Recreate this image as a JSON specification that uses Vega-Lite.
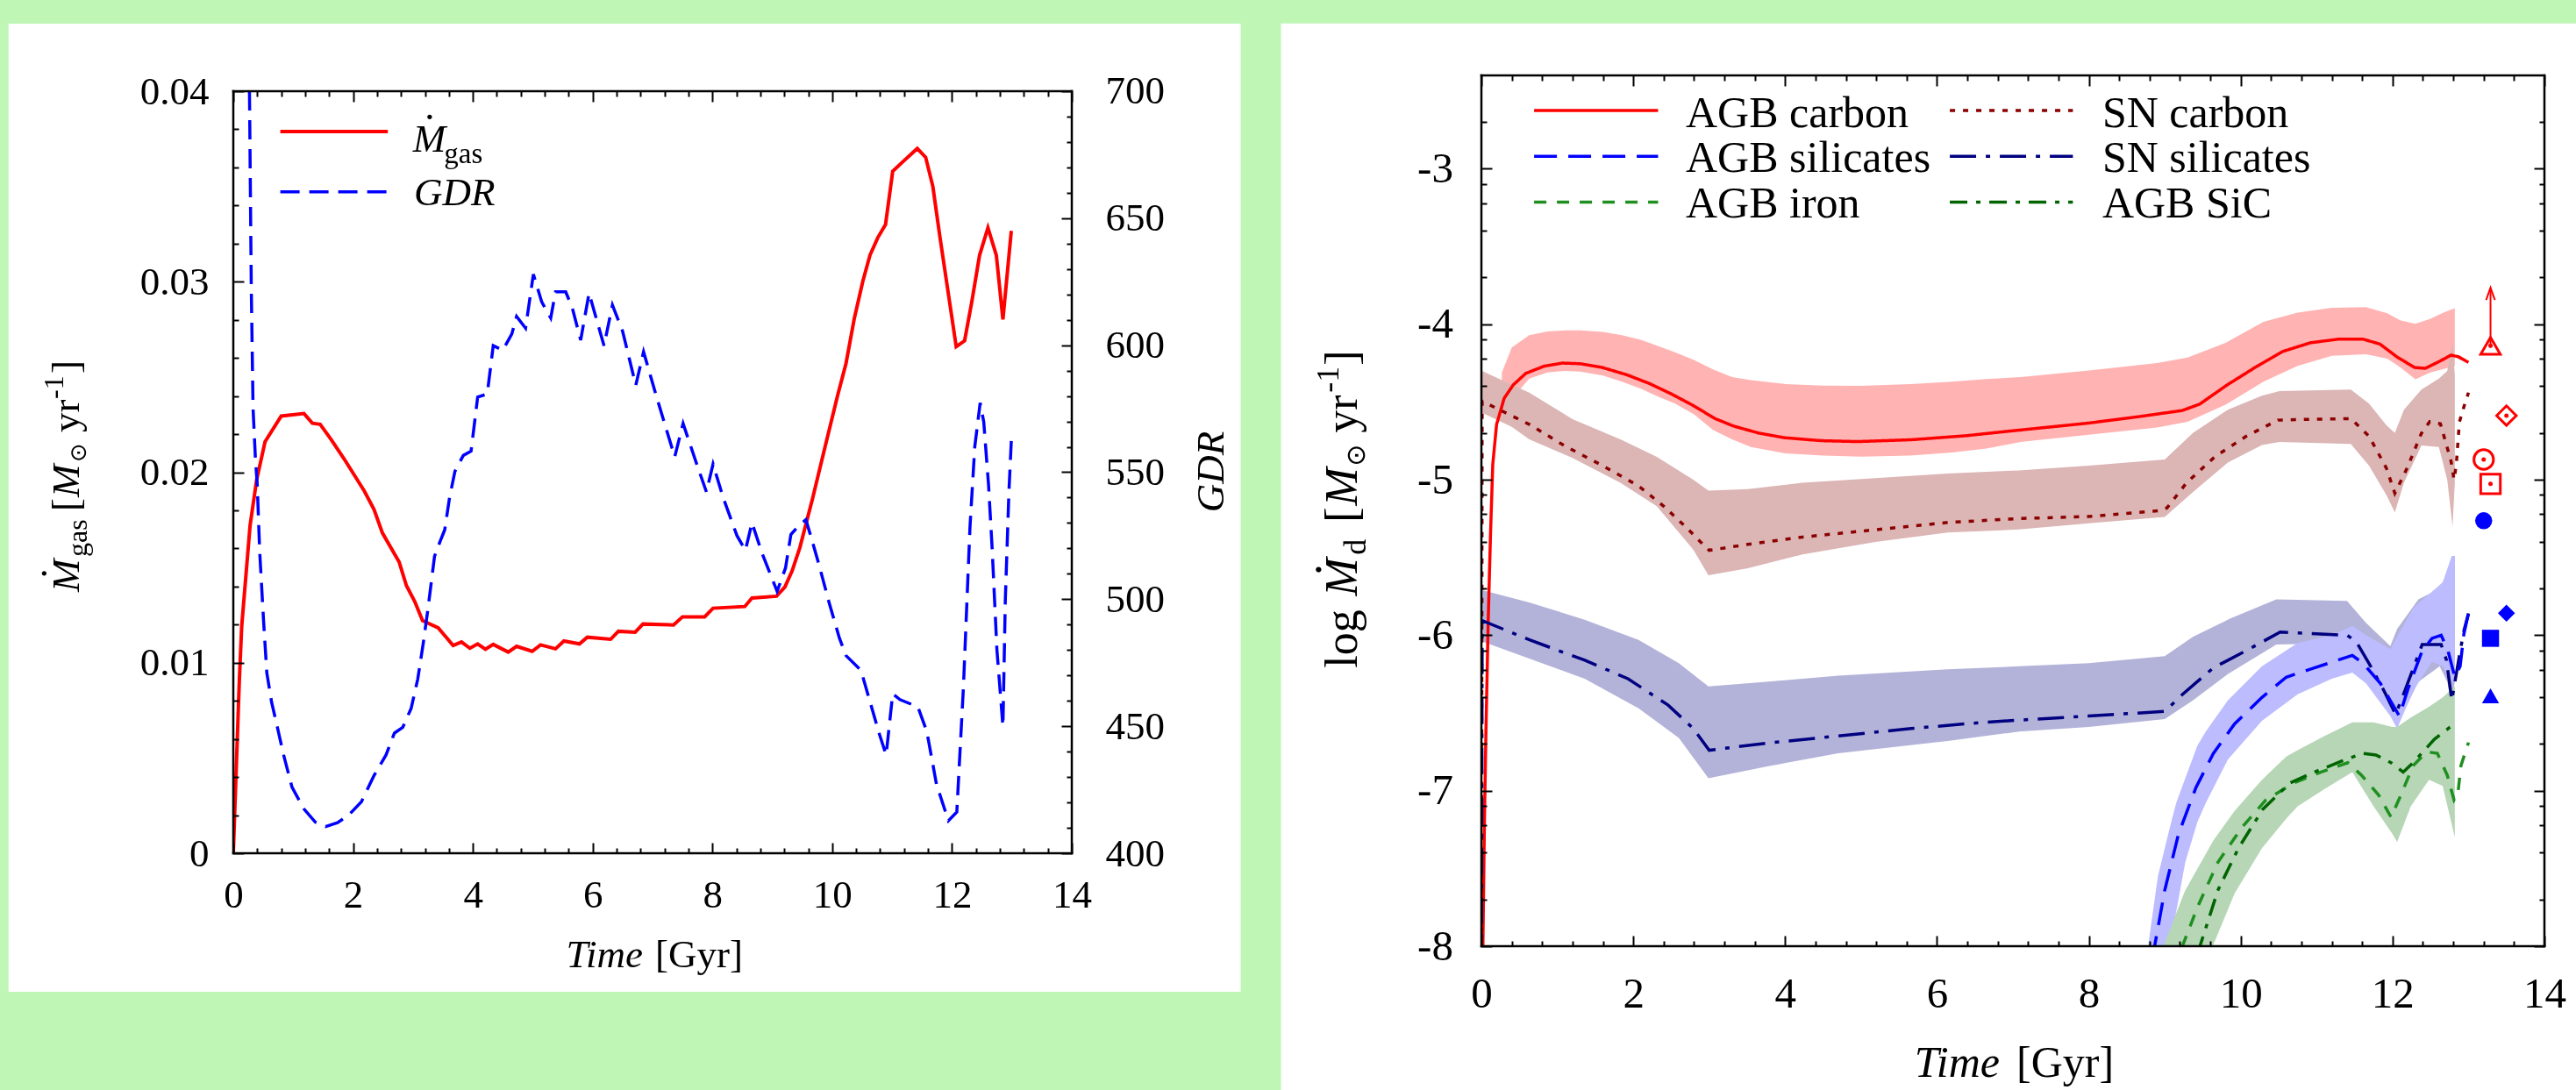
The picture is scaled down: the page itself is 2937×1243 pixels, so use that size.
{
"$schema": "https://vega.github.io/schema/vega-lite/v6.json",
"background": "#bff6b6",
"padding": {"left": 9, "top": 26, "right": 0, "bottom": 0},
"spacing": 45,
"data": {"values": [{}]},
"config": {
  "view": {"stroke": null},
  "axis": {"domain": false, "grid": false, "tickColor": "black", "tickWidth": 2, "labelFont": "Liberation Serif", "labelColor": "black", "labelFlush": false, "labelOverlap": false}
},
"datasets": {
  "mgas": [
    {"time":0,"Mgas":0},{"time":0.05,"Mgas":0.0045},{"time":0.1,"Mgas":0.009},{"time":0.14,"Mgas":0.0119},{"time":0.28,"Mgas":0.0172},{"time":0.39,"Mgas":0.0196},{"time":0.53,"Mgas":0.0216},{"time":0.8,"Mgas":0.02295},{"time":1.18,"Mgas":0.02308},{"time":1.32,"Mgas":0.02257},{"time":1.45,"Mgas":0.02252},{"time":1.63,"Mgas":0.02173},{"time":1.85,"Mgas":0.0207},{"time":2.19,"Mgas":0.019},{"time":2.35,"Mgas":0.01804},{"time":2.49,"Mgas":0.01681},{"time":2.77,"Mgas":0.01528},{"time":2.89,"Mgas":0.01405},{"time":3.03,"Mgas":0.01321},{"time":3.16,"Mgas":0.01221},{"time":3.42,"Mgas":0.01183},{"time":3.67,"Mgas":0.01091},{"time":3.81,"Mgas":0.01109},{"time":3.95,"Mgas":0.01076},{"time":4.08,"Mgas":0.01099},{"time":4.21,"Mgas":0.01071},{"time":4.34,"Mgas":0.01096},{"time":4.59,"Mgas":0.01056},{"time":4.73,"Mgas":0.01086},{"time":4.99,"Mgas":0.0106},{"time":5.13,"Mgas":0.01094},{"time":5.38,"Mgas":0.01073},{"time":5.52,"Mgas":0.01114},{"time":5.78,"Mgas":0.01099},{"time":5.91,"Mgas":0.01134},{"time":6.3,"Mgas":0.01123},{"time":6.43,"Mgas":0.01165},{"time":6.71,"Mgas":0.0116},{"time":6.84,"Mgas":0.01203},{"time":7.35,"Mgas":0.01198},{"time":7.5,"Mgas":0.01241},{"time":7.87,"Mgas":0.01241},{"time":8.01,"Mgas":0.01286},{"time":8.54,"Mgas":0.01295},{"time":8.66,"Mgas":0.0134},{"time":9.07,"Mgas":0.01349},{"time":9.21,"Mgas":0.01398},{"time":9.33,"Mgas":0.01482},{"time":9.46,"Mgas":0.01605},{"time":9.67,"Mgas":0.0186},{"time":9.87,"Mgas":0.0212},{"time":10.09,"Mgas":0.02403},{"time":10.23,"Mgas":0.02571},{"time":10.37,"Mgas":0.02809},{"time":10.51,"Mgas":0.03001},{"time":10.63,"Mgas":0.03139},{"time":10.76,"Mgas":0.03231},{"time":10.89,"Mgas":0.033},{"time":11.01,"Mgas":0.0358},{"time":11.18,"Mgas":0.0363},{"time":11.42,"Mgas":0.03699},{"time":11.56,"Mgas":0.03653},{"time":11.68,"Mgas":0.035},{"time":11.8,"Mgas":0.03231},{"time":12.07,"Mgas":0.02659},{"time":12.21,"Mgas":0.0269},{"time":12.33,"Mgas":0.02894},{"time":12.46,"Mgas":0.03139},{"time":12.6,"Mgas":0.03283},{"time":12.74,"Mgas":0.03139},{"time":12.85,"Mgas":0.02802},{"time":12.99,"Mgas":0.03267}
  ],
  "gdr": [
    {"time":0.27,"GDR":700},{"time":0.3,"GDR":623},{"time":0.33,"GDR":575},{"time":0.37,"GDR":555},{"time":0.4,"GDR":545},{"time":0.44,"GDR":519},{"time":0.505,"GDR":491.6},{"time":0.56,"GDR":470.9},{"time":0.64,"GDR":459.4},{"time":0.73,"GDR":450.2},{"time":0.84,"GDR":438.7},{"time":0.98,"GDR":426},{"time":1.18,"GDR":417.4},{"time":1.37,"GDR":412.2},{"time":1.54,"GDR":410.5},{"time":1.74,"GDR":412},{"time":1.93,"GDR":415.1},{"time":2.14,"GDR":420.3},{"time":2.35,"GDR":430.6},{"time":2.55,"GDR":438.7},{"time":2.69,"GDR":447.3},{"time":2.83,"GDR":449.6},{"time":2.97,"GDR":457.1},{"time":3.08,"GDR":468.6},{"time":3.17,"GDR":482.4},{"time":3.25,"GDR":496.2},{"time":3.36,"GDR":516.9},{"time":3.45,"GDR":522.6},{"time":3.53,"GDR":527.3},{"time":3.61,"GDR":539.9},{"time":3.7,"GDR":550.3},{"time":3.84,"GDR":556.6},{"time":3.97,"GDR":558.3},{"time":4.08,"GDR":579.6},{"time":4.24,"GDR":580.8},{"time":4.34,"GDR":599.8},{"time":4.5,"GDR":598},{"time":4.65,"GDR":604.4},{"time":4.73,"GDR":611.3},{"time":4.88,"GDR":606.7},{"time":5.01,"GDR":627.9},{"time":5.15,"GDR":617},{"time":5.3,"GDR":610.7},{"time":5.38,"GDR":621},{"time":5.55,"GDR":621},{"time":5.66,"GDR":614.7},{"time":5.8,"GDR":602},{"time":5.94,"GDR":620.5},{"time":6.08,"GDR":608.9},{"time":6.19,"GDR":599.8},{"time":6.33,"GDR":615.8},{"time":6.5,"GDR":605.5},{"time":6.72,"GDR":584.2},{"time":6.85,"GDR":597.4},{"time":7.06,"GDR":580.2},{"time":7.37,"GDR":556},{"time":7.51,"GDR":569.2},{"time":7.73,"GDR":553.7},{"time":7.9,"GDR":542.2},{"time":8.01,"GDR":553.2},{"time":8.18,"GDR":539.9},{"time":8.41,"GDR":525},{"time":8.55,"GDR":519.2},{"time":8.66,"GDR":530.1},{"time":8.83,"GDR":518},{"time":9.08,"GDR":503.1},{"time":9.22,"GDR":512.3},{"time":9.31,"GDR":525.5},{"time":9.42,"GDR":528.4},{"time":9.56,"GDR":531.3},{"time":9.64,"GDR":525},{"time":9.78,"GDR":513.5},{"time":9.95,"GDR":498.5},{"time":10.12,"GDR":484.7},{"time":10.23,"GDR":477.8},{"time":10.48,"GDR":472},{"time":10.62,"GDR":460.5},{"time":10.79,"GDR":446.7},{"time":10.9,"GDR":438.7},{"time":11.01,"GDR":462.8},{"time":11.13,"GDR":460.5},{"time":11.43,"GDR":457.6},{"time":11.58,"GDR":447.9},{"time":11.74,"GDR":427.2},{"time":11.94,"GDR":412.8},{"time":12.08,"GDR":416.2},{"time":12.19,"GDR":465.1},{"time":12.3,"GDR":528.4},{"time":12.38,"GDR":560},{"time":12.47,"GDR":577.3},{"time":12.53,"GDR":569.8},{"time":12.61,"GDR":545},{"time":12.67,"GDR":520},{"time":12.75,"GDR":480},{"time":12.85,"GDR":450},{"time":12.89,"GDR":499.7},{"time":12.95,"GDR":542.2},{"time":12.99,"GDR":562.3}
  ],
  "dust": [
    {"series":"AGB carbon","time":0,"logMd":-8.5},{"series":"AGB carbon","time":0.02,"logMd":-7.99},{"series":"AGB carbon","time":0.04,"logMd":-7.2},{"series":"AGB carbon","time":0.06,"logMd":-6.62},{"series":"AGB carbon","time":0.09,"logMd":-5.9},{"series":"AGB carbon","time":0.12,"logMd":-5.35},{"series":"AGB carbon","time":0.15,"logMd":-4.9},{"series":"AGB carbon","time":0.2,"logMd":-4.645},{"series":"AGB carbon","time":0.3,"logMd":-4.476},{"series":"AGB carbon","time":0.42,"logMd":-4.39},{"series":"AGB carbon","time":0.585,"logMd":-4.316},{"series":"AGB carbon","time":0.825,"logMd":-4.27},{"series":"AGB carbon","time":1.065,"logMd":-4.25},{"series":"AGB carbon","time":1.3,"logMd":-4.254},{"series":"AGB carbon","time":1.59,"logMd":-4.278},{"series":"AGB carbon","time":1.92,"logMd":-4.326},{"series":"AGB carbon","time":2.215,"logMd":-4.382},{"series":"AGB carbon","time":2.5,"logMd":-4.448},{"series":"AGB carbon","time":2.79,"logMd":-4.523},{"series":"AGB carbon","time":3.08,"logMd":-4.608},{"series":"AGB carbon","time":3.32,"logMd":-4.655},{"series":"AGB carbon","time":3.65,"logMd":-4.7},{"series":"AGB carbon","time":3.99,"logMd":-4.73},{"series":"AGB carbon","time":4.47,"logMd":-4.749},{"series":"AGB carbon","time":4.95,"logMd":-4.755},{"series":"AGB carbon","time":5.665,"logMd":-4.743},{"series":"AGB carbon","time":6.385,"logMd":-4.717},{"series":"AGB carbon","time":6.865,"logMd":-4.692},{"series":"AGB carbon","time":7.43,"logMd":-4.664},{"series":"AGB carbon","time":7.995,"logMd":-4.636},{"series":"AGB carbon","time":8.68,"logMd":-4.593},{"series":"AGB carbon","time":9.23,"logMd":-4.555},{"series":"AGB carbon","time":9.46,"logMd":-4.514},{"series":"AGB carbon","time":9.82,"logMd":-4.391},{"series":"AGB carbon","time":10.19,"logMd":-4.278},{"series":"AGB carbon","time":10.555,"logMd":-4.175},{"series":"AGB carbon","time":10.92,"logMd":-4.119},{"series":"AGB carbon","time":11.29,"logMd":-4.096},{"series":"AGB carbon","time":11.61,"logMd":-4.096},{"series":"AGB carbon","time":11.835,"logMd":-4.128},{"series":"AGB carbon","time":12.065,"logMd":-4.213},{"series":"AGB carbon","time":12.29,"logMd":-4.278},{"series":"AGB carbon","time":12.43,"logMd":-4.284},{"series":"AGB carbon","time":12.61,"logMd":-4.241},{"series":"AGB carbon","time":12.77,"logMd":-4.199},{"series":"AGB carbon","time":12.865,"logMd":-4.209},{"series":"AGB carbon","time":13.0,"logMd":-4.246},
    {"series":"SN carbon","time":0,"logMd":-8.5},{"series":"SN carbon","time":0.01,"logMd":-4.495},{"series":"SN carbon","time":0.24,"logMd":-4.551},{"series":"SN carbon","time":0.634,"logMd":-4.645},{"series":"SN carbon","time":1.11,"logMd":-4.786},{"series":"SN carbon","time":1.59,"logMd":-4.908},{"series":"SN carbon","time":2.07,"logMd":-5.04},{"series":"SN carbon","time":2.405,"logMd":-5.172},{"series":"SN carbon","time":2.69,"logMd":-5.303},{"series":"SN carbon","time":2.88,"logMd":-5.397},{"series":"SN carbon","time":3.0,"logMd":-5.454},{"series":"SN carbon","time":3.51,"logMd":-5.416},{"series":"SN carbon","time":4.23,"logMd":-5.369},{"series":"SN carbon","time":5.19,"logMd":-5.322},{"series":"SN carbon","time":6.145,"logMd":-5.275},{"series":"SN carbon","time":7.08,"logMd":-5.25},{"series":"SN carbon","time":7.995,"logMd":-5.237},{"series":"SN carbon","time":8.91,"logMd":-5.2},{"series":"SN carbon","time":9.03,"logMd":-5.181},{"series":"SN carbon","time":9.285,"logMd":-5.021},{"series":"SN carbon","time":9.66,"logMd":-4.852},{"series":"SN carbon","time":10.075,"logMd":-4.72},{"series":"SN carbon","time":10.49,"logMd":-4.617},{"series":"SN carbon","time":10.765,"logMd":-4.613},{"series":"SN carbon","time":11.45,"logMd":-4.607},{"series":"SN carbon","time":11.69,"logMd":-4.72},{"series":"SN carbon","time":11.92,"logMd":-4.927},{"series":"SN carbon","time":12.03,"logMd":-5.087},{"series":"SN carbon","time":12.19,"logMd":-4.927},{"series":"SN carbon","time":12.38,"logMd":-4.702},{"series":"SN carbon","time":12.49,"logMd":-4.626},{"series":"SN carbon","time":12.63,"logMd":-4.64},{"series":"SN carbon","time":12.77,"logMd":-4.88},{"series":"SN carbon","time":12.81,"logMd":-5.0},{"series":"SN carbon","time":12.84,"logMd":-4.9},{"series":"SN carbon","time":12.88,"logMd":-4.63},{"series":"SN carbon","time":12.94,"logMd":-4.53},{"series":"SN carbon","time":13.0,"logMd":-4.44},
    {"series":"SN silicates","time":0,"logMd":-8.5},{"series":"SN silicates","time":0.01,"logMd":-5.906},{"series":"SN silicates","time":0.634,"logMd":-6.03},{"series":"SN silicates","time":1.355,"logMd":-6.16},{"series":"SN silicates","time":1.93,"logMd":-6.28},{"series":"SN silicates","time":2.46,"logMd":-6.45},{"series":"SN silicates","time":2.79,"logMd":-6.6},{"series":"SN silicates","time":3.0,"logMd":-6.74},{"series":"SN silicates","time":3.745,"logMd":-6.695},{"series":"SN silicates","time":4.7,"logMd":-6.648},{"series":"SN silicates","time":5.66,"logMd":-6.6},{"series":"SN silicates","time":6.62,"logMd":-6.56},{"series":"SN silicates","time":7.29,"logMd":-6.54},{"series":"SN silicates","time":7.995,"logMd":-6.52},{"series":"SN silicates","time":9.0,"logMd":-6.49},{"series":"SN silicates","time":9.235,"logMd":-6.38},{"series":"SN silicates","time":9.64,"logMd":-6.21},{"series":"SN silicates","time":10.07,"logMd":-6.1},{"series":"SN silicates","time":10.52,"logMd":-5.98},{"series":"SN silicates","time":11.4,"logMd":-6.0},{"series":"SN silicates","time":11.52,"logMd":-6.04},{"series":"SN silicates","time":11.7,"logMd":-6.19},{"series":"SN silicates","time":11.89,"logMd":-6.36},{"series":"SN silicates","time":12.04,"logMd":-6.51},{"series":"SN silicates","time":12.16,"logMd":-6.36},{"series":"SN silicates","time":12.39,"logMd":-6.06},{"series":"SN silicates","time":12.57,"logMd":-6.06},{"series":"SN silicates","time":12.64,"logMd":-6.06},{"series":"SN silicates","time":12.71,"logMd":-6.16},{"series":"SN silicates","time":12.78,"logMd":-6.42},{"series":"SN silicates","time":12.87,"logMd":-6.16},{"series":"SN silicates","time":12.94,"logMd":-5.97},{"series":"SN silicates","time":13.0,"logMd":-5.86},
    {"series":"AGB silicates","time":8.8,"logMd":-8.3},{"series":"AGB silicates","time":8.87,"logMd":-7.99},{"series":"AGB silicates","time":9.0,"logMd":-7.64},{"series":"AGB silicates","time":9.18,"logMd":-7.28},{"series":"AGB silicates","time":9.41,"logMd":-6.98},{"series":"AGB silicates","time":9.64,"logMd":-6.76},{"series":"AGB silicates","time":9.92,"logMd":-6.57},{"series":"AGB silicates","time":10.28,"logMd":-6.4},{"series":"AGB silicates","time":10.6,"logMd":-6.27},{"series":"AGB silicates","time":10.97,"logMd":-6.21},{"series":"AGB silicates","time":11.47,"logMd":-6.13},{"series":"AGB silicates","time":11.61,"logMd":-6.18},{"series":"AGB silicates","time":11.84,"logMd":-6.31},{"series":"AGB silicates","time":11.97,"logMd":-6.42},{"series":"AGB silicates","time":12.09,"logMd":-6.52},{"series":"AGB silicates","time":12.2,"logMd":-6.35},{"series":"AGB silicates","time":12.39,"logMd":-6.1},{"series":"AGB silicates","time":12.52,"logMd":-6.02},{"series":"AGB silicates","time":12.64,"logMd":-6.0},{"series":"AGB silicates","time":12.73,"logMd":-6.1},{"series":"AGB silicates","time":12.82,"logMd":-6.27},{"series":"AGB silicates","time":12.89,"logMd":-6.2},{"series":"AGB silicates","time":12.94,"logMd":-5.99},{"series":"AGB silicates","time":13.0,"logMd":-5.86},
    {"series":"AGB iron","time":9.15,"logMd":-8.3},{"series":"AGB iron","time":9.24,"logMd":-7.99},{"series":"AGB iron","time":9.43,"logMd":-7.75},{"series":"AGB iron","time":9.7,"logMd":-7.46},{"series":"AGB iron","time":10.01,"logMd":-7.24},{"series":"AGB iron","time":10.33,"logMd":-7.06},{"series":"AGB iron","time":10.7,"logMd":-6.95},{"series":"AGB iron","time":11.06,"logMd":-6.88},{"series":"AGB iron","time":11.41,"logMd":-6.82},{"series":"AGB iron","time":11.59,"logMd":-6.9},{"series":"AGB iron","time":11.82,"logMd":-7.03},{"series":"AGB iron","time":11.98,"logMd":-7.17},{"series":"AGB iron","time":12.09,"logMd":-7.05},{"series":"AGB iron","time":12.27,"logMd":-6.84},{"series":"AGB iron","time":12.45,"logMd":-6.75},{"series":"AGB iron","time":12.59,"logMd":-6.76},{"series":"AGB iron","time":12.72,"logMd":-6.9},{"series":"AGB iron","time":12.81,"logMd":-7.06},{"series":"AGB iron","time":12.86,"logMd":-7.02},{"series":"AGB iron","time":12.9,"logMd":-6.84},{"series":"AGB iron","time":13.0,"logMd":-6.69},
    {"series":"AGB SiC","time":9.4,"logMd":-8.3},{"series":"AGB SiC","time":9.47,"logMd":-7.99},{"series":"AGB SiC","time":9.7,"logMd":-7.64},{"series":"AGB SiC","time":9.97,"logMd":-7.37},{"series":"AGB SiC","time":10.29,"logMd":-7.12},{"series":"AGB SiC","time":10.65,"logMd":-6.95},{"series":"AGB SiC","time":10.97,"logMd":-6.88},{"series":"AGB SiC","time":11.33,"logMd":-6.81},{"series":"AGB SiC","time":11.6,"logMd":-6.76},{"series":"AGB SiC","time":11.78,"logMd":-6.77},{"series":"AGB SiC","time":11.98,"logMd":-6.82},{"series":"AGB SiC","time":12.14,"logMd":-6.88},{"series":"AGB SiC","time":12.27,"logMd":-6.82},{"series":"AGB SiC","time":12.55,"logMd":-6.67},{"series":"AGB SiC","time":12.76,"logMd":-6.59}
  ],
  "bands": [
    {"series":"AGB carbon","time":0.27,"lo":-4.6,"hi":-4.31},{"series":"AGB carbon","time":0.4,"lo":-4.48,"hi":-4.15},{"series":"AGB carbon","time":0.63,"lo":-4.35,"hi":-4.07},{"series":"AGB carbon","time":0.87,"lo":-4.31,"hi":-4.047},{"series":"AGB carbon","time":1.1,"lo":-4.3,"hi":-4.04},{"series":"AGB carbon","time":1.3,"lo":-4.305,"hi":-4.04},{"series":"AGB carbon","time":1.6,"lo":-4.33,"hi":-4.05},{"series":"AGB carbon","time":1.85,"lo":-4.37,"hi":-4.07},{"series":"AGB carbon","time":2.1,"lo":-4.415,"hi":-4.1},{"series":"AGB carbon","time":2.3,"lo":-4.46,"hi":-4.135},{"series":"AGB carbon","time":2.55,"lo":-4.51,"hi":-4.18},{"series":"AGB carbon","time":2.8,"lo":-4.58,"hi":-4.23},{"series":"AGB carbon","time":3.05,"lo":-4.68,"hi":-4.29},{"series":"AGB carbon","time":3.3,"lo":-4.74,"hi":-4.34},{"series":"AGB carbon","time":3.55,"lo":-4.79,"hi":-4.36},{"series":"AGB carbon","time":4.0,"lo":-4.83,"hi":-4.385},{"series":"AGB carbon","time":4.5,"lo":-4.845,"hi":-4.395},{"series":"AGB carbon","time":5.0,"lo":-4.852,"hi":-4.397},{"series":"AGB carbon","time":5.65,"lo":-4.845,"hi":-4.385},{"series":"AGB carbon","time":6.2,"lo":-4.825,"hi":-4.37},{"series":"AGB carbon","time":6.65,"lo":-4.8,"hi":-4.353},{"series":"AGB carbon","time":7.1,"lo":-4.757,"hi":-4.34},{"series":"AGB carbon","time":8.0,"lo":-4.711,"hi":-4.297},{"series":"AGB carbon","time":8.9,"lo":-4.664,"hi":-4.25},{"series":"AGB carbon","time":9.3,"lo":-4.628,"hi":-4.215},{"series":"AGB carbon","time":9.8,"lo":-4.518,"hi":-4.12},{"series":"AGB carbon","time":10.3,"lo":-4.37,"hi":-3.985},{"series":"AGB carbon","time":10.75,"lo":-4.268,"hi":-3.925},{"series":"AGB carbon","time":11.2,"lo":-4.203,"hi":-3.894},{"series":"AGB carbon","time":11.65,"lo":-4.194,"hi":-3.89},{"series":"AGB carbon","time":11.93,"lo":-4.222,"hi":-3.93},{"series":"AGB carbon","time":12.1,"lo":-4.277,"hi":-3.975},{"series":"AGB carbon","time":12.3,"lo":-4.354,"hi":-3.997},{"series":"AGB carbon","time":12.5,"lo":-4.31,"hi":-3.965},{"series":"AGB carbon","time":12.65,"lo":-4.29,"hi":-3.93},{"series":"AGB carbon","time":12.82,"lo":-4.269,"hi":-3.897},
    {"series":"SN carbon","time":0.01,"lo":-4.57,"hi":-4.3},{"series":"SN carbon","time":0.4,"lo":-4.66,"hi":-4.39},{"series":"SN carbon","time":0.63,"lo":-4.74,"hi":-4.44},{"series":"SN carbon","time":1.2,"lo":-4.86,"hi":-4.61},{"series":"SN carbon","time":1.83,"lo":-5.02,"hi":-4.74},{"series":"SN carbon","time":2.31,"lo":-5.17,"hi":-4.853},{"series":"SN carbon","time":2.79,"lo":-5.45,"hi":-5.0},{"series":"SN carbon","time":2.99,"lo":-5.615,"hi":-5.07},{"series":"SN carbon","time":3.51,"lo":-5.57,"hi":-5.06},{"series":"SN carbon","time":4.23,"lo":-5.48,"hi":-5.02},{"series":"SN carbon","time":5.19,"lo":-5.4,"hi":-4.99},{"series":"SN carbon","time":6.14,"lo":-5.34,"hi":-4.96},{"series":"SN carbon","time":7.08,"lo":-5.32,"hi":-4.94},{"series":"SN carbon","time":8.0,"lo":-5.28,"hi":-4.91},{"series":"SN carbon","time":9.0,"lo":-5.24,"hi":-4.87},{"series":"SN carbon","time":9.37,"lo":-5.08,"hi":-4.7},{"series":"SN carbon","time":9.83,"lo":-4.89,"hi":-4.55},{"series":"SN carbon","time":10.28,"lo":-4.777,"hi":-4.46},{"series":"SN carbon","time":10.51,"lo":-4.758,"hi":-4.43},{"series":"SN carbon","time":11.45,"lo":-4.77,"hi":-4.42},{"series":"SN carbon","time":11.69,"lo":-4.91,"hi":-4.51},{"series":"SN carbon","time":11.92,"lo":-5.1,"hi":-4.65},{"series":"SN carbon","time":12.03,"lo":-5.21,"hi":-4.7},{"series":"SN carbon","time":12.15,"lo":-5.02,"hi":-4.55},{"series":"SN carbon","time":12.38,"lo":-4.78,"hi":-4.42},{"series":"SN carbon","time":12.61,"lo":-4.79,"hi":-4.35},{"series":"SN carbon","time":12.72,"lo":-5.0,"hi":-4.3},{"series":"SN carbon","time":12.79,"lo":-5.3,"hi":-4.12},{"series":"SN carbon","time":12.82,"lo":-5.02,"hi":-4.33},
    {"series":"SN silicates","time":0.01,"lo":-6.04,"hi":-5.71},{"series":"SN silicates","time":0.63,"lo":-6.15,"hi":-5.79},{"series":"SN silicates","time":1.36,"lo":-6.28,"hi":-5.9},{"series":"SN silicates","time":2.07,"lo":-6.47,"hi":-6.03},{"series":"SN silicates","time":2.6,"lo":-6.66,"hi":-6.18},{"series":"SN silicates","time":2.99,"lo":-6.92,"hi":-6.33},{"series":"SN silicates","time":3.75,"lo":-6.845,"hi":-6.3},{"series":"SN silicates","time":4.7,"lo":-6.76,"hi":-6.26},{"series":"SN silicates","time":6.14,"lo":-6.68,"hi":-6.22},{"series":"SN silicates","time":7.08,"lo":-6.62,"hi":-6.2},{"series":"SN silicates","time":8.0,"lo":-6.59,"hi":-6.18},{"series":"SN silicates","time":9.0,"lo":-6.54,"hi":-6.135},{"series":"SN silicates","time":9.37,"lo":-6.42,"hi":-6.01},{"series":"SN silicates","time":9.83,"lo":-6.25,"hi":-5.9},{"series":"SN silicates","time":10.47,"lo":-6.06,"hi":-5.77},{"series":"SN silicates","time":11.4,"lo":-6.05,"hi":-5.78},{"series":"SN silicates","time":11.65,"lo":-6.19,"hi":-5.92},{"series":"SN silicates","time":11.97,"lo":-6.5,"hi":-6.07},{"series":"SN silicates","time":12.06,"lo":-6.58,"hi":-5.96},{"series":"SN silicates","time":12.34,"lo":-6.3,"hi":-5.77},{"series":"SN silicates","time":12.62,"lo":-6.2,"hi":-5.7},{"series":"SN silicates","time":12.72,"lo":-6.3,"hi":-5.6},{"series":"SN silicates","time":12.78,"lo":-6.44,"hi":-5.49},{"series":"SN silicates","time":12.82,"lo":-6.29,"hi":-5.49},
    {"series":"AGB silicates","time":8.78,"lo":-8.5,"hi":-8.0},{"series":"AGB silicates","time":8.91,"lo":-8.35,"hi":-7.55},{"series":"AGB silicates","time":9.06,"lo":-7.99,"hi":-7.25},{"series":"AGB silicates","time":9.15,"lo":-7.78,"hi":-7.08},{"series":"AGB silicates","time":9.27,"lo":-7.46,"hi":-6.92},{"series":"AGB silicates","time":9.43,"lo":-7.2,"hi":-6.71},{"series":"AGB silicates","time":9.54,"lo":-7.08,"hi":-6.62},{"series":"AGB silicates","time":9.83,"lo":-6.8,"hi":-6.42},{"series":"AGB silicates","time":10.28,"lo":-6.55,"hi":-6.2},{"series":"AGB silicates","time":10.75,"lo":-6.38,"hi":-6.05},{"series":"AGB silicates","time":11.2,"lo":-6.28,"hi":-6.0},{"series":"AGB silicates","time":11.47,"lo":-6.24,"hi":-5.94},{"series":"AGB silicates","time":11.65,"lo":-6.31,"hi":-6.0},{"series":"AGB silicates","time":11.97,"lo":-6.52,"hi":-6.09},{"series":"AGB silicates","time":12.06,"lo":-6.6,"hi":-6.01},{"series":"AGB silicates","time":12.28,"lo":-6.35,"hi":-5.82},{"series":"AGB silicates","time":12.52,"lo":-6.17,"hi":-5.72},{"series":"AGB silicates","time":12.66,"lo":-6.2,"hi":-5.66},{"series":"AGB silicates","time":12.78,"lo":-6.3,"hi":-5.49},{"series":"AGB silicates","time":12.82,"lo":-6.31,"hi":-5.49},
    {"series":"AGB SiC","time":8.98,"lo":-8.5,"hi":-8.0},{"series":"AGB SiC","time":9.27,"lo":-8.3,"hi":-7.64},{"series":"AGB SiC","time":9.64,"lo":-7.99,"hi":-7.32},{"series":"AGB SiC","time":9.92,"lo":-7.66,"hi":-7.13},{"series":"AGB SiC","time":10.28,"lo":-7.37,"hi":-6.93},{"series":"AGB SiC","time":10.6,"lo":-7.18,"hi":-6.78},{"series":"AGB SiC","time":10.75,"lo":-7.1,"hi":-6.74},{"series":"AGB SiC","time":11.1,"lo":-6.99,"hi":-6.65},{"series":"AGB SiC","time":11.47,"lo":-6.88,"hi":-6.56},{"series":"AGB SiC","time":11.75,"lo":-7.1,"hi":-6.56},{"series":"AGB SiC","time":12.0,"lo":-7.28,"hi":-6.59},{"series":"AGB SiC","time":12.06,"lo":-7.33,"hi":-6.59},{"series":"AGB SiC","time":12.24,"lo":-7.1,"hi":-6.53},{"series":"AGB SiC","time":12.48,"lo":-6.93,"hi":-6.46},{"series":"AGB SiC","time":12.66,"lo":-6.97,"hi":-6.4},{"series":"AGB SiC","time":12.82,"lo":-7.3,"hi":-6.33}
  ],
  "obs": [
    {"ref":"A","dust":"carbon","time":13.29,"logMd":-4.139},
    {"ref":"B","dust":"carbon","time":13.5,"logMd":-4.588},
    {"ref":"C","dust":"carbon","time":13.2,"logMd":-4.87},
    {"ref":"D","dust":"carbon","time":13.29,"logMd":-5.027},
    {"ref":"C","dust":"silicate","time":13.2,"logMd":-5.264},
    {"ref":"B","dust":"silicate","time":13.5,"logMd":-5.858},
    {"ref":"D","dust":"silicate","time":13.29,"logMd":-6.02},
    {"ref":"A","dust":"silicate","time":13.29,"logMd":-6.39}
  ]
},
"hconcat": [
 {
  "width": 956, "height": 887,
  "layer": [
   {
    "layer": [
     {"mark": {"type": "rect", "fill": "white", "clip": false},
      "encoding": {
        "x": {"datum": -3.753, "type": "quantitative", "scale": {"domain": [0, 14], "nice": false},
              "axis": {"orient": "bottom", "values": [0,2,4,6,8,10,12,14], "tickSize": -12, "labelFontSize": 45, "labelPadding": 37, "title": null, "zindex": 1}},
        "x2": {"datum": 16.819},
        "y": {"datum": -0.007273, "type": "quantitative", "scale": {"domain": [0, 0.040829], "nice": false},
              "axis": {"orient": "left", "values": [0,0.01,0.02,0.03,0.04], "tickSize": -12, "labelFontSize": 45, "labelPadding": 40, "labelExpr": "datum.value == 0 ? '0' : format(datum.value, '.2f')", "title": null, "zindex": 1}},
        "y2": {"datum": 0.043544}}},
     {"data": {"name": "mgas"}, "mark": {"type": "line", "color": "#ff0000", "strokeWidth": 4, "clip": true},
      "encoding": {
        "x": {"field": "time", "type": "quantitative",
              "axis": {"orient": "bottom", "values": [0.4,0.8,1.2,1.6,2.4,2.8,3.2,3.6,4.4,4.8,5.2,5.6,6.4,6.8,7.2,7.6,8.4,8.8,9.2,9.6,10.4,10.8,11.2,11.6,12.4,12.8,13.2,13.6], "tickSize": -6, "labels": false, "title": null, "zindex": 1}},
        "y": {"field": "Mgas", "type": "quantitative",
              "axis": {"orient": "left", "values": [0.002,0.004,0.006,0.008,0.012,0.014,0.016,0.018,0.022,0.024,0.026,0.028,0.032,0.034,0.036,0.038], "tickSize": -6, "labels": false, "title": null, "zindex": 1}}}},
     {"mark": {"type": "rule", "color": "#ff0000", "strokeWidth": 4},
      "encoding": {"x": {"datum": 0.785, "type": "quantitative", "axis": null}, "x2": {"datum": 2.58}, "y": {"datum": 0.03788, "type": "quantitative", "axis": null}}},
     {"mark": {"type": "text", "text": "M", "font": "Liberation Serif", "fontSize": 45, "fontStyle": "italic", "align": "left", "baseline": "alphabetic", "color": "black"},
      "encoding": {"x": {"datum": 2.997, "type": "quantitative", "axis": null}, "y": {"datum": 0.03684, "type": "quantitative", "axis": null}}},
     {"mark": {"type": "text", "text": ".", "font": "Liberation Serif", "fontSize": 45, "align": "left", "baseline": "alphabetic", "dx": 13.6, "dy": -37, "color": "black"},
      "encoding": {"x": {"datum": 2.997, "type": "quantitative", "axis": null}, "y": {"datum": 0.03684, "type": "quantitative", "axis": null}}},
     {"mark": {"type": "text", "text": "gas", "font": "Liberation Serif", "fontSize": 33, "align": "left", "baseline": "alphabetic", "dx": 35.6, "dy": 13, "color": "black"},
      "encoding": {"x": {"datum": 2.997, "type": "quantitative", "axis": null}, "y": {"datum": 0.03684, "type": "quantitative", "axis": null}}},
     {"mark": {"type": "text", "text": "GDR", "font": "Liberation Serif", "fontSize": 45, "fontStyle": "italic", "align": "left", "baseline": "alphabetic", "color": "black"},
      "encoding": {"x": {"datum": 3.015, "type": "quantitative", "axis": null}, "y": {"datum": 0.034, "type": "quantitative", "axis": null}}},
     {"mark": {"type": "text", "text": "Time", "font": "Liberation Serif", "fontSize": 45, "fontStyle": "italic", "align": "right", "baseline": "alphabetic", "dx": -11, "color": "black"},
      "encoding": {"x": {"datum": 7, "type": "quantitative", "axis": null}, "y": {"datum": -0.00597, "type": "quantitative", "axis": null}}},
     {"mark": {"type": "text", "text": "[Gyr]", "font": "Liberation Serif", "fontSize": 45, "align": "left", "baseline": "alphabetic", "dx": 3, "color": "black"},
      "encoding": {"x": {"datum": 7, "type": "quantitative", "axis": null}, "y": {"datum": -0.00597, "type": "quantitative", "axis": null}}},
     {"mark": {"type": "text", "text": "GDR", "font": "Liberation Serif", "fontSize": 45, "fontStyle": "italic", "align": "center", "baseline": "alphabetic", "angle": 270, "color": "black"},
      "encoding": {"x": {"datum": 16.54, "type": "quantitative", "axis": null}, "y": {"datum": 0.02002, "type": "quantitative", "axis": null}}},
     {"mark": {"type": "text", "text": "M", "font": "Liberation Serif", "fontSize": 45, "fontStyle": "italic", "align": "left", "baseline": "alphabetic", "angle": 270, "color": "black"},
      "encoding": {"x": {"datum": -2.581, "type": "quantitative", "axis": null}, "y": {"datum": 0.013717, "type": "quantitative", "axis": null}}},
     {"mark": {"type": "text", "text": ".", "font": "Liberation Serif", "fontSize": 45, "align": "left", "baseline": "alphabetic", "angle": 270, "dx": 15.4, "dy": -37, "color": "black"},
      "encoding": {"x": {"datum": -2.581, "type": "quantitative", "axis": null}, "y": {"datum": 0.013717, "type": "quantitative", "axis": null}}},
     {"mark": {"type": "text", "text": "gas", "font": "Liberation Serif", "fontSize": 32, "align": "left", "baseline": "alphabetic", "angle": 270, "dx": 40, "dy": 9, "color": "black"},
      "encoding": {"x": {"datum": -2.581, "type": "quantitative", "axis": null}, "y": {"datum": 0.013717, "type": "quantitative", "axis": null}}},
     {"mark": {"type": "text", "text": "[", "font": "Liberation Serif", "fontSize": 45, "align": "left", "baseline": "alphabetic", "angle": 270, "dx": 92, "color": "black"},
      "encoding": {"x": {"datum": -2.581, "type": "quantitative", "axis": null}, "y": {"datum": 0.013717, "type": "quantitative", "axis": null}}},
     {"mark": {"type": "text", "text": "M", "font": "Liberation Serif", "fontSize": 45, "fontStyle": "italic", "align": "left", "baseline": "alphabetic", "angle": 270, "dx": 108, "color": "black"},
      "encoding": {"x": {"datum": -2.581, "type": "quantitative", "axis": null}, "y": {"datum": 0.013717, "type": "quantitative", "axis": null}}},
     {"mark": {"type": "text", "text": "⊙", "font": "DejaVu Sans", "fontSize": 26, "align": "left", "baseline": "alphabetic", "angle": 270, "dx": 148, "dy": 8, "color": "black"},
      "encoding": {"x": {"datum": -2.581, "type": "quantitative", "axis": null}, "y": {"datum": 0.013717, "type": "quantitative", "axis": null}}},
     {"mark": {"type": "text", "text": "yr", "font": "Liberation Serif", "fontSize": 45, "align": "left", "baseline": "alphabetic", "angle": 270, "dx": 182, "color": "black"},
      "encoding": {"x": {"datum": -2.581, "type": "quantitative", "axis": null}, "y": {"datum": 0.013717, "type": "quantitative", "axis": null}}},
     {"mark": {"type": "text", "text": "-1", "font": "Liberation Serif", "fontSize": 32, "align": "left", "baseline": "alphabetic", "angle": 270, "dx": 220, "dy": -18, "color": "black"},
      "encoding": {"x": {"datum": -2.581, "type": "quantitative", "axis": null}, "y": {"datum": 0.013717, "type": "quantitative", "axis": null}}},
     {"mark": {"type": "text", "text": "]", "font": "Liberation Serif", "fontSize": 45, "align": "left", "baseline": "alphabetic", "angle": 270, "dx": 249, "color": "black"},
      "encoding": {"x": {"datum": -2.581, "type": "quantitative", "axis": null}, "y": {"datum": 0.013717, "type": "quantitative", "axis": null}}}
    ],
    "resolve": {"axis": {"x": "independent", "y": "independent"}}
   },
   {
    "layer": [
     {"data": {"name": "gdr"}, "mark": {"type": "line", "color": "#0000ff", "strokeWidth": 3.5, "strokeDash": [22, 11], "clip": true},
      "encoding": {
        "x": {"field": "time", "type": "quantitative",
              "axis": {"orient": "top", "offset": -18, "values": [0,2,4,6,8,10,12,14], "tickSize": -12, "labels": false, "title": null, "zindex": 1}},
        "y": {"field": "GDR", "type": "quantitative", "scale": {"domain": [400, 706.21], "nice": false},
              "axis": {"orient": "right", "values": [400,450,500,550,600,650,700], "tickSize": -12, "labelFontSize": 45, "labelPadding": 50, "title": null, "zindex": 1}}}},
     {"mark": {"type": "rule", "color": "#0000ff", "strokeWidth": 3.5, "strokeDash": [22, 11]},
      "encoding": {
        "x": {"datum": 0.785, "type": "quantitative",
              "axis": {"orient": "top", "offset": -18, "values": [0.4,0.8,1.2,1.6,2.4,2.8,3.2,3.6,4.4,4.8,5.2,5.6,6.4,6.8,7.2,7.6,8.4,8.8,9.2,9.6,10.4,10.8,11.2,11.6,12.4,12.8,13.2,13.6], "tickSize": -6, "labels": false, "title": null, "zindex": 1}},
        "x2": {"datum": 2.58},
        "y": {"datum": 660.4, "type": "quantitative",
              "axis": {"orient": "right", "values": [410,420,430,440,460,470,480,490,510,520,530,540,560,570,580,590,610,620,630,640,660,670,680,690], "tickSize": -6, "labels": false, "title": null, "zindex": 1}}}},
     {"mark": {"type": "rule", "color": "black", "strokeWidth": 2.5, "strokeCap": "square"},
      "encoding": {"x": {"datum": 0, "type": "quantitative", "axis": null}, "x2": {"datum": 14}, "y": {"datum": 700, "type": "quantitative", "axis": null}}},
     {"mark": {"type": "rule", "color": "black", "strokeWidth": 2.5, "strokeCap": "square"},
      "encoding": {"x": {"datum": 0, "type": "quantitative", "axis": null}, "x2": {"datum": 14}, "y": {"datum": 400, "type": "quantitative", "axis": null}}},
     {"mark": {"type": "rule", "color": "black", "strokeWidth": 2.5, "strokeCap": "square"},
      "encoding": {"x": {"datum": 0, "type": "quantitative", "axis": null}, "y": {"datum": 400, "type": "quantitative", "axis": null}, "y2": {"datum": 700}}},
     {"mark": {"type": "rule", "color": "black", "strokeWidth": 2.5, "strokeCap": "square"},
      "encoding": {"x": {"datum": 14, "type": "quantitative", "axis": null}, "y": {"datum": 400, "type": "quantitative", "axis": null}, "y2": {"datum": 700}}}
    ],
    "resolve": {"axis": {"x": "independent", "y": "independent"}}
   }
  ],
  "resolve": {"scale": {"y": "independent"}, "axis": {"x": "independent", "y": "independent"}}
 },
 {
  "width": 1212, "height": 993,
  "layer": [
   {"mark": {"type": "rect", "fill": "white", "clip": false},
    "encoding": {
      "x": {"datum": -2.64, "type": "quantitative", "scale": {"domain": [0, 14], "nice": false},
            "axis": {"orient": "bottom", "values": [0,2,4,6,8,10,12,14], "tickSize": -12, "labelFontSize": 49, "labelPadding": 42, "title": null, "zindex": 1}},
      "x2": {"datum": 14.446},
      "y": {"datum": -8.9295, "type": "quantitative", "scale": {"domain": [-8, -2.4], "nice": false},
            "axis": {"orient": "left", "values": [-8,-7,-6,-5,-4,-3], "tickSize": -12, "labelFontSize": 49, "labelPadding": 44.6, "labelExpr": "'' + datum.value", "title": null, "zindex": 1}},
      "y2": {"datum": -2.0654}}},
   {"data": {"name": "bands"}, "mark": {"type": "area", "opacity": 1, "blend": "darken", "clip": true},
    "encoding": {
      "x": {"field": "time", "type": "quantitative",
            "axis": {"orient": "bottom", "values": [0.4,0.8,1.2,1.6,2.4,2.8,3.2,3.6,4.4,4.8,5.2,5.6,6.4,6.8,7.2,7.6,8.4,8.8,9.2,9.6,10.4,10.8,11.2,11.6,12.4,12.8,13.2,13.6], "tickSize": -6, "labels": false, "title": null, "zindex": 1}},
      "y": {"field": "lo", "type": "quantitative",
            "axis": {"orient": "left", "values": [-7.69897,-7.39794,-7.22185,-7.09691,-6.69897,-6.39794,-6.22185,-6.09691,-5.69897,-5.39794,-5.22185,-5.09691,-4.69897,-4.39794,-4.22185,-4.09691,-3.69897,-3.39794,-3.22185,-3.09691,-2.69897], "tickSize": -6, "labels": false, "title": null, "zindex": 1}},
      "y2": {"field": "hi"},
      "fill": {"field": "series", "type": "nominal", "legend": null,
               "scale": {"domain": ["AGB carbon","SN carbon","AGB silicates","SN silicates","AGB SiC"], "range": ["#ffb3b3","#dcb5b5","#bcbcff","#b3b3da","#b6d6b6"]}}}},
   {"data": {"name": "dust"}, "mark": {"type": "line", "strokeWidth": 3.5, "clip": true},
    "encoding": {
      "x": {"field": "time", "type": "quantitative",
            "axis": {"orient": "top", "values": [0,2,4,6,8,10,12,14], "tickSize": -12, "labels": false, "title": null, "zindex": 1}},
      "y": {"field": "logMd", "type": "quantitative",
            "axis": {"orient": "right", "values": [-8,-7,-6,-5,-4,-3], "tickSize": -12, "labels": false, "title": null, "zindex": 1}},
      "color": {"field": "series", "type": "nominal", "legend": null,
                "scale": {"domain": ["AGB carbon","SN carbon","AGB silicates","SN silicates","AGB iron","AGB SiC"], "range": ["#ff0000","#8b0000","#0000ff","#000080","#1f8f1f","#006400"]}},
      "strokeDash": {"field": "series", "type": "nominal", "legend": null,
                "scale": {"domain": ["AGB carbon","SN carbon","AGB silicates","SN silicates","AGB iron","AGB SiC"], "range": [[1,0],[6,9],[26,13],[30,11,5,11],[14,12],[20,10,5,10]]}}}},
   {"data": {"name": "obs"}, "transform": [{"filter": "datum.dust == 'carbon'"}],
    "mark": {"type": "point", "filled": false, "color": "#ff0000", "strokeWidth": 3, "size": 500, "opacity": 1},
    "encoding": {
      "x": {"field": "time", "type": "quantitative",
            "axis": {"orient": "top", "values": [0.4,0.8,1.2,1.6,2.4,2.8,3.2,3.6,4.4,4.8,5.2,5.6,6.4,6.8,7.2,7.6,8.4,8.8,9.2,9.6,10.4,10.8,11.2,11.6,12.4,12.8,13.2,13.6], "tickSize": -6, "labels": false, "title": null, "zindex": 1}},
      "y": {"field": "logMd", "type": "quantitative",
            "axis": {"orient": "right", "values": [-7.69897,-7.39794,-7.22185,-7.09691,-6.69897,-6.39794,-6.22185,-6.09691,-5.69897,-5.39794,-5.22185,-5.09691,-4.69897,-4.39794,-4.22185,-4.09691,-3.69897,-3.39794,-3.22185,-3.09691,-2.69897], "tickSize": -6, "labels": false, "title": null, "zindex": 1}},
      "shape": {"field": "ref", "type": "nominal", "legend": null,
                "scale": {"domain": ["A","B","C","D"], "range": ["triangle-up","diamond","circle","square"]}}}},
   {"data": {"name": "obs"}, "transform": [{"filter": "datum.dust == 'silicate'"}],
    "mark": {"type": "point", "filled": true, "color": "#0000ff", "size": 380, "opacity": 1},
    "encoding": {
      "x": {"field": "time", "type": "quantitative", "axis": null},
      "y": {"field": "logMd", "type": "quantitative", "axis": null},
      "shape": {"field": "ref", "type": "nominal", "legend": null}}},
   {"data": {"name": "obs"}, "transform": [{"filter": "datum.dust == 'carbon'"}],
    "mark": {"type": "point", "shape": "circle", "filled": true, "color": "#ff0000", "size": 25, "opacity": 1},
    "encoding": {
      "x": {"field": "time", "type": "quantitative", "axis": null},
      "y": {"field": "logMd", "type": "quantitative", "axis": null}}},
   {"mark": {"type": "rule", "color": "#ff0000", "strokeWidth": 2},
    "encoding": {"x": {"datum": 13.29, "type": "quantitative", "axis": null}, "y": {"datum": -4.15, "type": "quantitative", "axis": null}, "y2": {"datum": -3.77}}},
   {"mark": {"type": "point", "shape": "M-1,2.8L0,0L1,2.8", "filled": false, "color": "#ff0000", "strokeWidth": 2, "size": 100, "opacity": 1},
    "encoding": {"x": {"datum": 13.29, "type": "quantitative", "axis": null}, "y": {"datum": -3.765, "type": "quantitative", "axis": null}}},
   {"mark": {"type": "rule", "color": "#ff0000", "strokeWidth": 3.5},
    "encoding": {"x": {"datum": 0.694, "type": "quantitative", "axis": null}, "x2": {"datum": 2.327}, "y": {"datum": -2.625, "type": "quantitative", "axis": null}}},
   {"mark": {"type": "rule", "color": "#0000ff", "strokeWidth": 3.5, "strokeDash": [26, 13]},
    "encoding": {"x": {"datum": 0.694, "type": "quantitative", "axis": null}, "x2": {"datum": 2.327}, "y": {"datum": -2.92, "type": "quantitative", "axis": null}}},
   {"mark": {"type": "rule", "color": "#1f8f1f", "strokeWidth": 3.5, "strokeDash": [14, 12]},
    "encoding": {"x": {"datum": 0.694, "type": "quantitative", "axis": null}, "x2": {"datum": 2.327}, "y": {"datum": -3.215, "type": "quantitative", "axis": null}}},
   {"mark": {"type": "rule", "color": "#8b0000", "strokeWidth": 3.5, "strokeDash": [6, 9]},
    "encoding": {"x": {"datum": 6.169, "type": "quantitative", "axis": null}, "x2": {"datum": 7.79}, "y": {"datum": -2.625, "type": "quantitative", "axis": null}}},
   {"mark": {"type": "rule", "color": "#000080", "strokeWidth": 3.5, "strokeDash": [30, 11, 5, 11]},
    "encoding": {"x": {"datum": 6.169, "type": "quantitative", "axis": null}, "x2": {"datum": 7.79}, "y": {"datum": -2.92, "type": "quantitative", "axis": null}}},
   {"mark": {"type": "rule", "color": "#006400", "strokeWidth": 3.5, "strokeDash": [20, 10, 5, 10]},
    "encoding": {"x": {"datum": 6.169, "type": "quantitative", "axis": null}, "x2": {"datum": 7.79}, "y": {"datum": -3.215, "type": "quantitative", "axis": null}}},
   {"mark": {"type": "text", "text": "AGB carbon", "font": "Liberation Serif", "fontSize": 50, "align": "left", "baseline": "alphabetic", "color": "black"},
    "encoding": {"x": {"datum": 2.691, "type": "quantitative", "axis": null}, "y": {"datum": -2.733, "type": "quantitative", "axis": null}}},
   {"mark": {"type": "text", "text": "AGB silicates", "font": "Liberation Serif", "fontSize": 50, "align": "left", "baseline": "alphabetic", "color": "black"},
    "encoding": {"x": {"datum": 2.691, "type": "quantitative", "axis": null}, "y": {"datum": -3.023, "type": "quantitative", "axis": null}}},
   {"mark": {"type": "text", "text": "AGB iron", "font": "Liberation Serif", "fontSize": 50, "align": "left", "baseline": "alphabetic", "color": "black"},
    "encoding": {"x": {"datum": 2.691, "type": "quantitative", "axis": null}, "y": {"datum": -3.314, "type": "quantitative", "axis": null}}},
   {"mark": {"type": "text", "text": "SN carbon", "font": "Liberation Serif", "fontSize": 50, "align": "left", "baseline": "alphabetic", "color": "black"},
    "encoding": {"x": {"datum": 8.177, "type": "quantitative", "axis": null}, "y": {"datum": -2.733, "type": "quantitative", "axis": null}}},
   {"mark": {"type": "text", "text": "SN silicates", "font": "Liberation Serif", "fontSize": 50, "align": "left", "baseline": "alphabetic", "color": "black"},
    "encoding": {"x": {"datum": 8.177, "type": "quantitative", "axis": null}, "y": {"datum": -3.023, "type": "quantitative", "axis": null}}},
   {"mark": {"type": "text", "text": "AGB SiC", "font": "Liberation Serif", "fontSize": 50, "align": "left", "baseline": "alphabetic", "color": "black"},
    "encoding": {"x": {"datum": 8.177, "type": "quantitative", "axis": null}, "y": {"datum": -3.314, "type": "quantitative", "axis": null}}},
   {"mark": {"type": "text", "text": "Time", "font": "Liberation Serif", "fontSize": 50, "fontStyle": "italic", "align": "right", "baseline": "alphabetic", "dx": -15, "color": "black"},
    "encoding": {"x": {"datum": 7, "type": "quantitative", "axis": null}, "y": {"datum": -8.839, "type": "quantitative", "axis": null}}},
   {"mark": {"type": "text", "text": "[Gyr]", "font": "Liberation Serif", "fontSize": 50, "align": "left", "baseline": "alphabetic", "dx": 4, "color": "black"},
    "encoding": {"x": {"datum": 7, "type": "quantitative", "axis": null}, "y": {"datum": -8.839, "type": "quantitative", "axis": null}}},
   {"mark": {"type": "text", "text": "log", "font": "Liberation Serif", "fontSize": 52, "align": "left", "baseline": "alphabetic", "angle": 270, "color": "black"},
    "encoding": {"x": {"datum": -1.646, "type": "quantitative", "axis": null}, "y": {"datum": -6.211, "type": "quantitative", "axis": null}}},
   {"mark": {"type": "text", "text": "M", "font": "Liberation Serif", "fontSize": 52, "fontStyle": "italic", "align": "left", "baseline": "alphabetic", "angle": 270, "dx": 82, "color": "black"},
    "encoding": {"x": {"datum": -1.646, "type": "quantitative", "axis": null}, "y": {"datum": -6.211, "type": "quantitative", "axis": null}}},
   {"mark": {"type": "text", "text": ".", "font": "Liberation Serif", "fontSize": 52, "align": "left", "baseline": "alphabetic", "angle": 270, "dx": 105.8, "dy": -41, "color": "black"},
    "encoding": {"x": {"datum": -1.646, "type": "quantitative", "axis": null}, "y": {"datum": -6.211, "type": "quantitative", "axis": null}}},
   {"mark": {"type": "text", "text": "d", "font": "Liberation Serif", "fontSize": 36, "align": "left", "baseline": "alphabetic", "angle": 270, "dx": 129, "dy": 10, "color": "black"},
    "encoding": {"x": {"datum": -1.646, "type": "quantitative", "axis": null}, "y": {"datum": -6.211, "type": "quantitative", "axis": null}}},
   {"mark": {"type": "text", "text": "[", "font": "Liberation Serif", "fontSize": 52, "align": "left", "baseline": "alphabetic", "angle": 270, "dx": 166, "color": "black"},
    "encoding": {"x": {"datum": -1.646, "type": "quantitative", "axis": null}, "y": {"datum": -6.211, "type": "quantitative", "axis": null}}},
   {"mark": {"type": "text", "text": "M", "font": "Liberation Serif", "fontSize": 52, "fontStyle": "italic", "align": "left", "baseline": "alphabetic", "angle": 270, "dx": 185, "color": "black"},
    "encoding": {"x": {"datum": -1.646, "type": "quantitative", "axis": null}, "y": {"datum": -6.211, "type": "quantitative", "axis": null}}},
   {"mark": {"type": "text", "text": "⊙", "font": "DejaVu Sans", "fontSize": 30, "align": "left", "baseline": "alphabetic", "angle": 270, "dx": 230, "dy": 9, "color": "black"},
    "encoding": {"x": {"datum": -1.646, "type": "quantitative", "axis": null}, "y": {"datum": -6.211, "type": "quantitative", "axis": null}}},
   {"mark": {"type": "text", "text": "yr", "font": "Liberation Serif", "fontSize": 52, "align": "left", "baseline": "alphabetic", "angle": 270, "dx": 268, "color": "black"},
    "encoding": {"x": {"datum": -1.646, "type": "quantitative", "axis": null}, "y": {"datum": -6.211, "type": "quantitative", "axis": null}}},
   {"mark": {"type": "text", "text": "-1", "font": "Liberation Serif", "fontSize": 36, "align": "left", "baseline": "alphabetic", "angle": 270, "dx": 314, "dy": -21, "color": "black"},
    "encoding": {"x": {"datum": -1.646, "type": "quantitative", "axis": null}, "y": {"datum": -6.211, "type": "quantitative", "axis": null}}},
   {"mark": {"type": "text", "text": "]", "font": "Liberation Serif", "fontSize": 52, "align": "left", "baseline": "alphabetic", "angle": 270, "dx": 345, "color": "black"},
    "encoding": {"x": {"datum": -1.646, "type": "quantitative", "axis": null}, "y": {"datum": -6.211, "type": "quantitative", "axis": null}}},
   {"mark": {"type": "rule", "color": "black", "strokeWidth": 2.5, "strokeCap": "square"},
    "encoding": {"x": {"datum": 0, "type": "quantitative", "axis": null}, "x2": {"datum": 14}, "y": {"datum": -2.4, "type": "quantitative", "axis": null}}},
   {"mark": {"type": "rule", "color": "black", "strokeWidth": 2.5, "strokeCap": "square"},
    "encoding": {"x": {"datum": 0, "type": "quantitative", "axis": null}, "x2": {"datum": 14}, "y": {"datum": -8, "type": "quantitative", "axis": null}}},
   {"mark": {"type": "rule", "color": "black", "strokeWidth": 2.5, "strokeCap": "square"},
    "encoding": {"x": {"datum": 0, "type": "quantitative", "axis": null}, "y": {"datum": -8, "type": "quantitative", "axis": null}, "y2": {"datum": -2.4}}},
   {"mark": {"type": "rule", "color": "black", "strokeWidth": 2.5, "strokeCap": "square"},
    "encoding": {"x": {"datum": 14, "type": "quantitative", "axis": null}, "y": {"datum": -8, "type": "quantitative", "axis": null}, "y2": {"datum": -2.4}}}
  ],
  "resolve": {"axis": {"x": "independent", "y": "independent"}}
 }
]
}
